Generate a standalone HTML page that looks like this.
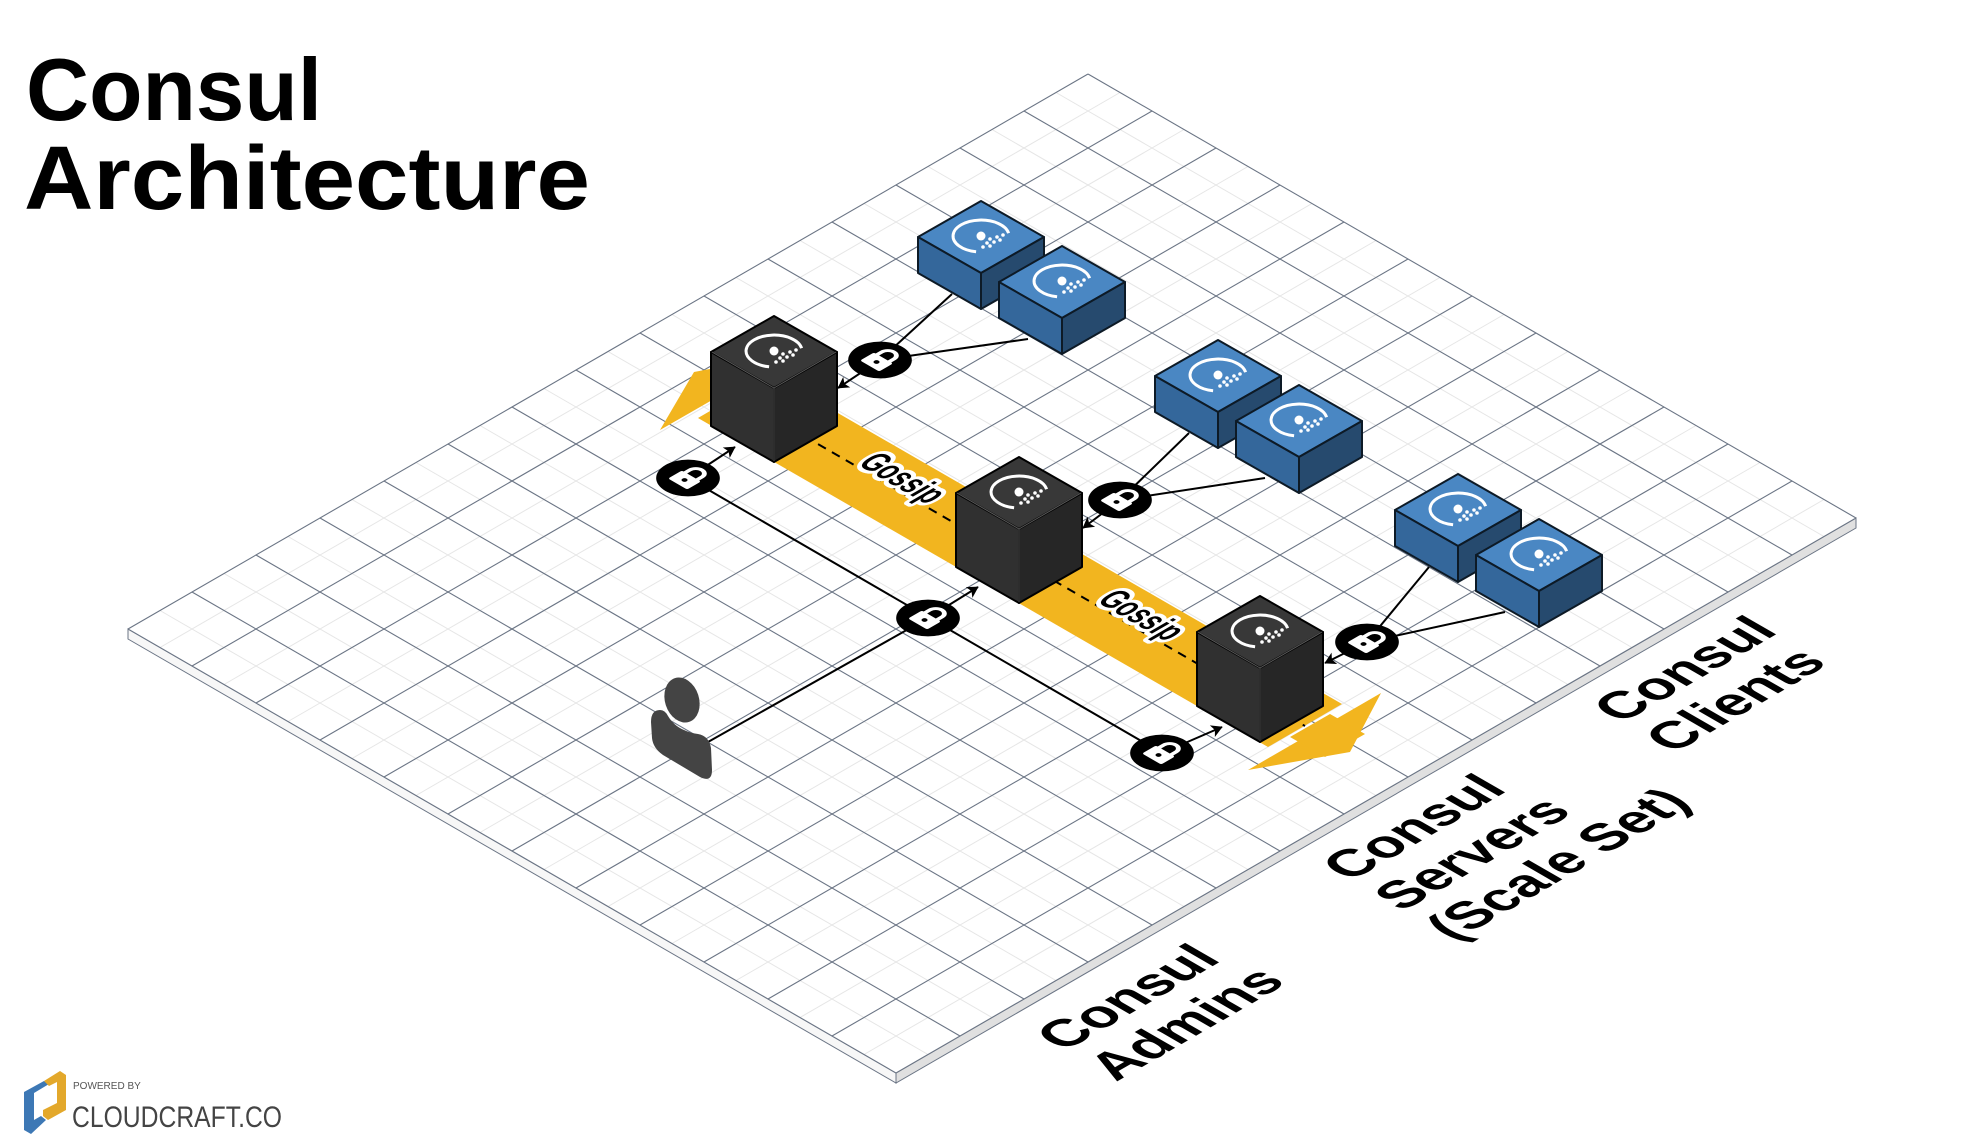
<!DOCTYPE html>
<html><head><meta charset="utf-8"><style>html,body{margin:0;padding:0;background:#fff}svg{display:block}</style></head>
<body>
<svg width="1984" height="1147" viewBox="0 0 1984 1147" xmlns="http://www.w3.org/2000/svg" font-family="Liberation Sans, sans-serif">
<defs>
<marker id="ah" viewBox="0 0 10 10" refX="9" refY="5" markerWidth="7" markerHeight="7" orient="auto" markerUnits="userSpaceOnUse" style="overflow:visible">
<path d="M-6,-4 L10,5 L-6,14 L-2,5 Z" fill="#000"/>
</marker>
<g id="logo">
<path d="M27.6,-2.8 A28 16 0 1 0 -4.9,15.8" fill="none" stroke="#fff" stroke-width="3"/>
<circle cx="0" cy="0" r="4.5" fill="#fff"/>
<circle cx="9" cy="3" r="1.8" fill="#fff"/><circle cx="16" cy="1" r="1.8" fill="#fff"/><circle cx="22" cy="-1" r="1.8" fill="#fff"/>
<circle cx="6" cy="7" r="1.8" fill="#fff"/><circle cx="13" cy="6" r="1.8" fill="#fff"/><circle cx="19" cy="4" r="1.8" fill="#fff"/>
<circle cx="2" cy="11" r="1.8" fill="#fff"/><circle cx="9" cy="10" r="1.8" fill="#fff"/>
</g>
<g id="lock">
<circle r="26" fill="#000"/>
<path d="M-7,-3 V-9 A7 7 0 0 1 7,-9 V-3" fill="none" stroke="#fff" stroke-width="4"/>
<rect x="-11" y="-4" width="22" height="16" rx="2" fill="#fff"/>
<circle cx="0" cy="4" r="2.5" fill="#000"/>
</g>
</defs>

<text x="26" y="120" font-size="88" font-weight="bold" fill="#000" textLength="296" lengthAdjust="spacingAndGlyphs">Consul</text>
<text x="24" y="209" font-size="90" font-weight="bold" fill="#000" textLength="566" lengthAdjust="spacingAndGlyphs">Architecture</text>

<polygon points="128,629 896,1073 896,1083 128,639" fill="#f7f7f7" stroke="#6b7585" stroke-width="1"/>
<polygon points="896,1073 1856,518 1856,528 896,1083" fill="#e0e0e0" stroke="#6b7585" stroke-width="1"/>
<polygon points="128,629 1088,74 1856,518 896,1073" fill="#fff"/>
<path stroke="#e6e6e6" stroke-width="1" fill="none" d="
M160,610.5L928,1054.5M224,573.5L992,1017.5M288,536.5L1056,980.5M352,499.5L1120,943.5M416,462.5L1184,906.5M480,425.5L1248,869.5M544,388.5L1312,832.5M608,351.5L1376,795.5M672,314.5L1440,758.5M736,277.5L1504,721.5M800,240.5L1568,684.5M864,203.5L1632,647.5M928,166.5L1696,610.5M992,129.5L1760,573.5M1056,92.5L1824,536.5
M160,647.5L1120,92.5M224,684.5L1184,129.5M288,721.5L1248,166.5M352,758.5L1312,203.5M416,795.5L1376,240.5M480,832.5L1440,277.5M544,869.5L1504,314.5M608,906.5L1568,351.5M672,943.5L1632,388.5M736,980.5L1696,425.5M800,1017.5L1760,462.5M864,1054.5L1824,499.5"/>
<path stroke="#6b7585" stroke-width="1.1" fill="none" d="
M128,629L896,1073M192,592L960,1036M256,555L1024,999M320,518L1088,962M384,481L1152,925M448,444L1216,888M512,407L1280,851M576,370L1344,814M640,333L1408,777M704,296L1472,740M768,259L1536,703M832,222L1600,666M896,185L1664,629M960,148L1728,592M1024,111L1792,555M1088,74L1856,518
M128,629L1088,74M192,666L1152,111M256,703L1216,148M320,740L1280,185M384,777L1344,222M448,814L1408,259M512,851L1472,296M576,888L1536,333M640,925L1600,370M704,962L1664,407M768,999L1728,444M832,1036L1792,481M896,1073L1856,518"/>

<g fill="#f2b51f">
<polygon points="698,418 772,375 1342,704 1268,747"/>
<polygon points="660,430 694,372 794,353"/>
<polygon points="1248,770 1350,752 1381,693"/>
<polygon points="1290,737 1330,714 1365,734 1325,757"/>
</g>
<line x1="735" y1="396" x2="1305" y2="726" stroke="#000" stroke-width="2" stroke-dasharray="9,7"/>

<g font-size="24" font-weight="bold" fill="#000" stroke="#fff" stroke-width="6" paint-order="stroke" stroke-linejoin="round">
<text transform="matrix(0.866,0.5,-0.866,0.5,903,478) scale(1,1.6)" text-anchor="middle" y="8">Gossip</text>
<text transform="matrix(0.866,0.5,-0.866,0.5,1142,615) scale(1,1.6)" text-anchor="middle" y="8">Gossip</text>
</g>

<g stroke="#000" stroke-width="2" fill="none">
<line x1="952" y1="294" x2="880" y2="360"/>
<line x1="1028" y1="339" x2="880" y2="360"/>
<line x1="1189" y1="433" x2="1120" y2="500"/>
<line x1="1265" y1="478" x2="1120" y2="500"/>
<line x1="1429" y1="567" x2="1367" y2="642"/>
<line x1="1505" y1="612" x2="1367" y2="642"/>
<line x1="688" y1="478" x2="1162" y2="753"/>
<line x1="708" y1="742" x2="928" y2="618"/>
<line x1="880" y1="360" x2="838" y2="388" marker-end="url(#ah)"/>
<line x1="1120" y1="500" x2="1083" y2="528" marker-end="url(#ah)"/>
<line x1="1367" y1="642" x2="1325" y2="663" marker-end="url(#ah)"/>
<line x1="688" y1="478" x2="735" y2="447" marker-end="url(#ah)"/>
<line x1="928" y1="618" x2="978" y2="587" marker-end="url(#ah)"/>
<line x1="1162" y1="753" x2="1222" y2="727" marker-end="url(#ah)"/>
</g>

<g stroke="#000" stroke-width="2" stroke-linejoin="round">
<g transform="translate(774,388)">
<polygon points="0,-72 -63,-36 0,0 63,-36" fill="#383838"/>
<polygon points="-63,-36 0,0 0,74 -63,38" fill="#303030"/>
<polygon points="0,0 63,-36 63,38 0,74" fill="#262626"/>
<path d="M-62,-36 L0,0 L62,-36 M0,0 V73" stroke="#5a5a5a" stroke-width="1" fill="none"/>
<use href="#logo" transform="translate(0,-37)" stroke="none"/>
</g>
<g transform="translate(1019,529)">
<polygon points="0,-72 -63,-36 0,0 63,-36" fill="#383838"/>
<polygon points="-63,-36 0,0 0,74 -63,38" fill="#303030"/>
<polygon points="0,0 63,-36 63,38 0,74" fill="#262626"/>
<path d="M-62,-36 L0,0 L62,-36 M0,0 V73" stroke="#5a5a5a" stroke-width="1" fill="none"/>
<use href="#logo" transform="translate(0,-37)" stroke="none"/>
</g>
<g transform="translate(1260,668)">
<polygon points="0,-72 -63,-36 0,0 63,-36" fill="#383838"/>
<polygon points="-63,-36 0,0 0,74 -63,38" fill="#303030"/>
<polygon points="0,0 63,-36 63,38 0,74" fill="#262626"/>
<path d="M-62,-36 L0,0 L62,-36 M0,0 V73" stroke="#5a5a5a" stroke-width="1" fill="none"/>
<use href="#logo" transform="translate(0,-37)" stroke="none"/>
</g>
</g>

<g stroke="#0d1a26" stroke-width="2" stroke-linejoin="round">
<g transform="translate(981,273)"><polygon points="0,-72 -63,-36 0,0 63,-36" fill="#4a87c3"/><polygon points="-63,-36 0,0 0,36 -63,0" fill="#34679b"/><polygon points="0,0 63,-36 63,0 0,36" fill="#264a6e"/><use href="#logo" transform="translate(0,-37)" stroke="none"/></g>
<g transform="translate(1062,318)"><polygon points="0,-72 -63,-36 0,0 63,-36" fill="#4a87c3"/><polygon points="-63,-36 0,0 0,36 -63,0" fill="#34679b"/><polygon points="0,0 63,-36 63,0 0,36" fill="#264a6e"/><use href="#logo" transform="translate(0,-37)" stroke="none"/></g>
<g transform="translate(1218,412)"><polygon points="0,-72 -63,-36 0,0 63,-36" fill="#4a87c3"/><polygon points="-63,-36 0,0 0,36 -63,0" fill="#34679b"/><polygon points="0,0 63,-36 63,0 0,36" fill="#264a6e"/><use href="#logo" transform="translate(0,-37)" stroke="none"/></g>
<g transform="translate(1299,457)"><polygon points="0,-72 -63,-36 0,0 63,-36" fill="#4a87c3"/><polygon points="-63,-36 0,0 0,36 -63,0" fill="#34679b"/><polygon points="0,0 63,-36 63,0 0,36" fill="#264a6e"/><use href="#logo" transform="translate(0,-37)" stroke="none"/></g>
<g transform="translate(1458,546)"><polygon points="0,-72 -63,-36 0,0 63,-36" fill="#4a87c3"/><polygon points="-63,-36 0,0 0,36 -63,0" fill="#34679b"/><polygon points="0,0 63,-36 63,0 0,36" fill="#264a6e"/><use href="#logo" transform="translate(0,-37)" stroke="none"/></g>
<g transform="translate(1539,591)"><polygon points="0,-72 -63,-36 0,0 63,-36" fill="#4a87c3"/><polygon points="-63,-36 0,0 0,36 -63,0" fill="#34679b"/><polygon points="0,0 63,-36 63,0 0,36" fill="#264a6e"/><use href="#logo" transform="translate(0,-37)" stroke="none"/></g>
</g>

<use href="#lock" transform="matrix(0.866,0.5,-0.866,0.5,880,360)"/>
<use href="#lock" transform="matrix(0.866,0.5,-0.866,0.5,688,478)"/>
<use href="#lock" transform="matrix(0.866,0.5,-0.866,0.5,1120,500)"/>
<use href="#lock" transform="matrix(0.866,0.5,-0.866,0.5,928,618)"/>
<use href="#lock" transform="matrix(0.866,0.5,-0.866,0.5,1367,642)"/>
<use href="#lock" transform="matrix(0.866,0.5,-0.866,0.5,1162,753)"/>

<g fill="#444">
<ellipse cx="682" cy="700" rx="17" ry="23" transform="rotate(-18 682 700)"/>
<path d="M660,710 Q651,710 651,722 L652,738 Q653,748 663,755 L700,777 Q712,783 712,770 L711,748 Q709,736 698,734 Q690,733 684,730 Q674,726 668,716 Q665,710 660,710 Z"/>
</g>

<g font-size="54" font-weight="bold" fill="#000">
<g transform="matrix(0.866,-0.5,0.866,0.5,1064,1052)">
<text x="0" y="0">Consul</text>
<text x="0" y="60">Admins</text>
</g>
<g transform="matrix(0.866,-0.5,0.866,0.5,1350,882)">
<text x="0" y="0">Consul</text>
<text x="0" y="60">Servers</text>
<text x="0" y="120">(Scale Set)</text>
</g>
<g transform="matrix(0.866,-0.5,0.866,0.5,1621,724)">
<text x="0" y="0">Consul</text>
<text x="0" y="60">Clients</text>
</g>
</g>

<polygon points="24,1092 44,1081 49,1084 34,1093 34,1120 41,1116 46,1120 31,1134 24,1130" fill="#3d78b5"/>
<polygon points="44,1081 60,1071 66,1075 66,1110 48,1120 43,1116 43,1110 57,1103 57,1082 49,1086" fill="#e3a82b"/>
<text x="73" y="1089" font-size="10" fill="#555">POWERED BY</text>
<text x="72" y="1127" font-size="30" fill="#444" textLength="210" lengthAdjust="spacingAndGlyphs">CLOUDCRAFT.CO</text>
</svg>
</body></html>
